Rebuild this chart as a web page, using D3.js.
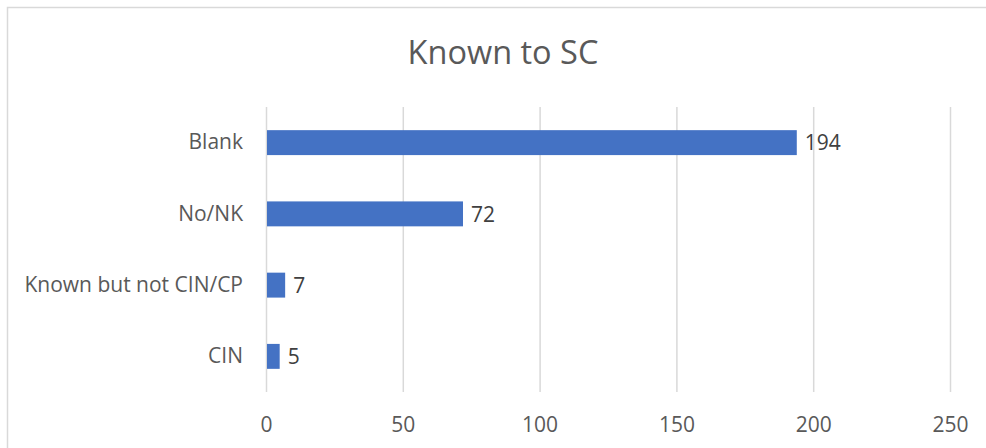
<!DOCTYPE html>
<html>
<head>
<meta charset="utf-8">
<script src="https://cdn.jsdelivr.net/npm/d3@7"></script>
<style>
  html, body { margin: 0; padding: 0; background: #fff; }
  svg { display: block; }
  text { font-family: "Open Sans", "Liberation Sans", sans-serif; }
</style>
</head>
<body>
<svg id="chart" width="986" height="448"></svg>
<script>
const title = "Known to SC";
const categories = ["Blank", "No/NK", "Known but not CIN/CP", "CIN"];
const values = [194, 72, 7, 5];
const xTicks = [0, 50, 100, 150, 200, 250];

const W = 986, H = 448;
const margin = { left: 266, right: 36, top: 107, bottom: 56 };
const svg = d3.select("#chart");

// chart border
svg.append("rect")
  .attr("x", 7.5).attr("y", 7.5)
  .attr("width", W + 10).attr("height", H + 10)
  .attr("fill", "#fff").attr("stroke", "#d9d9d9").attr("stroke-width", 1.5);

const x = d3.scaleLinear().domain([0, 250]).range([margin.left, W - margin.right]);
const y = d3.scaleBand().domain(categories).range([margin.top, H - margin.bottom]).paddingInner(0.65).paddingOuter(0.325);

// gridlines
const xAxis = d3.axisBottom(x).tickValues(xTicks).tickSize(-(H - margin.bottom - margin.top)).tickPadding(0);
const gx = svg.append("g").attr("transform", `translate(0,${H - margin.bottom})`).call(xAxis);
gx.select(".domain").remove();
gx.selectAll(".tick line").attr("stroke", "#d9d9d9").attr("stroke-width", 1.5);
gx.selectAll(".tick text")
  .attr("fill", "#595959").attr("font-size", 21)
  .attr("dy", "0").attr("y", 40)
  .attr("font-family", "Open Sans, Liberation Sans, sans-serif");

// bars
svg.append("g").selectAll("rect")
  .data(values)
  .join("rect")
  .attr("x", x(0) + 1)
  .attr("y", (d, i) => y(categories[i]))
  .attr("width", d => x(d) - x(0) - 1)
  .attr("height", y.bandwidth())
  .attr("fill", "#4472c4");

// data labels
svg.append("g").selectAll("text")
  .data(values)
  .join("text")
  .attr("x", d => x(d) + 8)
  .attr("y", (d, i) => y(categories[i]) + y.bandwidth() / 2)
  .attr("dy", "0.37em")
  .attr("fill", "#404040")
  .attr("font-size", 21)
  .text(d => d);

// category labels
const yAxis = d3.axisLeft(y).tickSize(0).tickPadding(23);
const gy = svg.append("g").attr("transform", `translate(${margin.left},0)`).call(yAxis);
gy.select(".domain").remove();
gy.selectAll(".tick text")
  .attr("fill", "#595959").attr("font-size", 21)
  .attr("font-family", "Open Sans, Liberation Sans, sans-serif");

// title
svg.append("text")
  .attr("x", 503).attr("y", 64)
  .attr("text-anchor", "middle")
  .attr("fill", "#595959")
  .attr("font-size", 32.5)
  .text(title);
</script>
</body>
</html>
